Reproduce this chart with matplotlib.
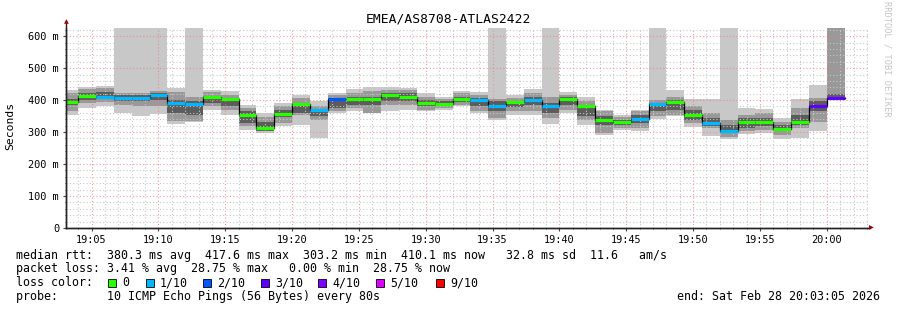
import matplotlib
matplotlib.use("Agg")
import matplotlib.pyplot as plt
from matplotlib.patches import Rectangle
from matplotlib.ticker import MultipleLocator, FixedLocator

# ── data: 80 s smokeping bins, time in minutes after 19:00 ──
STEP = 80 / 60
FIRST_BIN = 2 + 40 / 60          # 19:02:40
T0, T1 = 3 + 5 / 60, 63 + 5 / 60  # 19:03:05 .. 20:03:05

median = [394, 413, 411, 408, 408, 416, 392, 388, 409, 403, 354, 312, 356, 387, 369,
          404, 403, 403, 417, 409, 392, 387, 404, 399, 382, 393, 400, 383, 404, 380,
          339, 332, 342, 387, 393, 354, 327, 304, 332, 330, 310, 333, 380, 408]
loss = [0, 0, 1, 1, 1, 1, 1, 1, 0, 0, 0, 0, 0, 0, 1, 2, 0, 0, 0, 0, 0, 0, 0, 1, 1,
        0, 1, 1, 0, 0, 0, 0, 1, 1, 0, 0, 1, 1, 0, 0, 0, 0, 3, 3]
# smoke bands (ms): outer = min..max ping, mid, inner
outer_hi = [432, 440, 443, 700, 700, 700, 438, 700, 432, 427, 385, 359, 391, 417, 396,
            422, 435, 441, 441, 438, 422, 411, 429, 425, 700, 417, 435, 700, 425, 411,
            370, 352, 370, 700, 432, 403, 403, 700, 376, 372, 345, 403, 447, 700]
outer_lo = [352, 375, 380, 360, 351, 356, 325, 333, 370, 354, 307, 297, 318, 323, 281,
            359, 365, 359, 365, 370, 365, 370, 380, 359, 339, 354, 354, 325, 359, 323,
            292, 307, 302, 340, 349, 317, 288, 278, 294, 298, 278, 282, 303, 400]
mid_hi = [422, 434, 437, 422, 422, 427, 425, 411, 425, 417, 375, 346, 380, 406, 380,
          417, 422, 427, 432, 432, 411, 404, 422, 417, 404, 406, 422, 411, 417, 396,
          365, 346, 365, 401, 411, 380, 359, 339, 354, 359, 333, 375, 406, 700]
mid_lo = [365, 391, 394, 385, 380, 383, 335, 335, 383, 370, 318, 302, 328, 354, 339,
          365, 375, 359, 385, 385, 370, 375, 385, 365, 344, 365, 365, 344, 370, 339,
          297, 312, 312, 349, 354, 328, 312, 286, 302, 307, 292, 312, 333, 405]
inner_hi = [404, 422, 425, 417, 417, 422, 401, 396, 414, 406, 365, 333, 370, 391, 370,
            406, 411, 411, 422, 422, 401, 396, 411, 406, 396, 396, 411, 391, 411, 380,
            349, 339, 354, 391, 401, 370, 344, 323, 344, 344, 323, 354, 396, 418]
inner_lo = [385, 401, 404, 398, 398, 401, 359, 354, 391, 380, 328, 304, 346, 359, 349,
            375, 385, 385, 396, 396, 380, 380, 394, 380, 365, 377, 385, 359, 385, 349,
            323, 323, 328, 365, 370, 339, 318, 297, 312, 318, 302, 323, 365, 404]

yticks = [0, 100, 200, 300, 400, 500, 600]
ytick_labels = ["0", "100 m", "200 m", "300 m", "400 m", "500 m", "600 m"]
xticks = [5, 10, 15, 20, 25, 30, 35, 40, 45, 50, 55, 60]
xtick_labels = ["19:05", "19:10", "19:15", "19:20", "19:25", "19:30",
                "19:35", "19:40", "19:45", "19:50", "19:55", "20:00"]

LOSS_COLORS = {0: "#26ff00", 1: "#00b8ff", 2: "#0059ff", 3: "#5e00ff",
               4: "#7e00ff", 5: "#dd00ff", 9: "#ff0000"}
legend_loss = [0, 1, 2, 3, 4, 5, 9]
legend_names = ["0", "1/10", "2/10", "3/10", "4/10", "5/10", "9/10"]

MONO = "DejaVu Sans Mono"
W, H = 897, 310


def fx(px):
    return px / W


def fy(py):
    return 1 - py / H


fig = plt.figure(figsize=(W / 100, H / 100), dpi=100)
fig.patch.set_facecolor("white")
ax = fig.add_axes([fx(66), fy(228), (868 - 66) / W, (228 - 27.5) / H])
ax.set_facecolor("white")

starts = [FIRST_BIN + i * STEP for i in range(len(median))]
for lo, hi, c in ((outer_lo, outer_hi, "#c8c8c8"),
                  (mid_lo, mid_hi, "#999999"),
                  (inner_lo, inner_hi, "#5c5c5c")):
    ax.bar(starts, [h - l for l, h in zip(lo, hi)], bottom=lo, width=STEP,
           align="edge", color=c, linewidth=0, zorder=1)

# median: black step + loss-coloured segments
ax.step(starts + [starts[-1] + STEP], median + [median[-1]], where="post",
        color="black", lw=0.9, zorder=4)
ax.hlines(median, starts, [s + STEP for s in starts],
          colors=[LOSS_COLORS[l] for l in loss], lw=2.3, zorder=5)

ax.set_xlim(T0, T1)
ax.set_ylim(0, 627)
ax.xaxis.set_major_locator(FixedLocator(xticks))
ax.xaxis.set_minor_locator(MultipleLocator(1))
ax.yaxis.set_major_locator(FixedLocator(yticks))
ax.yaxis.set_minor_locator(MultipleLocator(20))
ax.set_xticklabels(xtick_labels, family=MONO, fontsize=7.4)
ax.set_yticklabels(ytick_labels, family=MONO, fontsize=7.4)
ax.grid(which="minor", color="#c8c8c8", ls=(0, (1, 2)), lw=0.8, zorder=2)
ax.grid(which="major", color="#f08080", ls=(0, (1, 2)), lw=0.8, alpha=0.8, zorder=3)
ax.set_axisbelow(False)
ax.tick_params(which="both", length=2, color="#444444", pad=3)
ax.tick_params(which="minor", length=1)
for side in ("top", "right"):
    ax.spines[side].set_visible(False)
for side in ("left", "bottom"):
    ax.spines[side].set_color("#222222")
    ax.spines[side].set_linewidth(1)
    ax.spines[side].set_zorder(6)

# axis arrows
fig.add_artist(plt.Line2D([fx(66), fx(66)], [fy(228), fy(23)], color="#222222", lw=1))
fig.add_artist(plt.Line2D([fx(66), fx(870)], [fy(228), fy(228)], color="#222222", lw=1))
fig.text(fx(66), fy(22), "▲", color="#990000", fontsize=4.5, ha="center", va="center")
fig.text(fx(871), fy(228), "▶", color="#990000", fontsize=4.5, ha="center", va="center")

fig.text(fx(448), fy(19.5), "EMEA/AS8708-ATLAS2422", family=MONO, fontsize=9.4,
         ha="center", va="center")
fig.text(fx(10), fy(126), "Seconds", family=MONO, fontsize=8.2, rotation=90,
         ha="center", va="center")
fig.text(fx(887), fy(59), "RRDTOOL / TOBI OETIKER", family=MONO, fontsize=6.2,
         rotation=270, ha="center", va="center", color="#c4c4c4")

LEG = 8.4
fig.text(fx(16), fy(255), "median rtt:  380.3 ms avg  417.6 ms max  303.2 ms min  "
         "410.1 ms now   32.8 ms sd  11.6   am/s", family=MONO, fontsize=LEG, va="center")
fig.text(fx(16), fy(268.5), "packet loss: 3.41 % avg  28.75 % max   0.00 % min  "
         "28.75 % now", family=MONO, fontsize=LEG, va="center")
fig.text(fx(16), fy(282.5), "loss color:", family=MONO, fontsize=LEG, va="center")
box_x = [108, 146, 203, 261, 318, 376, 436]
for bx, l, name in zip(box_x, legend_loss, legend_names):
    fig.add_artist(Rectangle((fx(bx), fy(286.5)), 8 / W, 8 / H, transform=fig.transFigure,
                             facecolor=LOSS_COLORS[l], edgecolor="black", lw=0.6))
    fig.text(fx(bx + 14), fy(282.5), name, family=MONO, fontsize=LEG, va="center")
fig.text(fx(16), fy(296.5), "probe:       10 ICMP Echo Pings (56 Bytes) every 80s",
         family=MONO, fontsize=LEG, va="center")
fig.text(fx(880), fy(296.5), "end: Sat Feb 28 20:03:05 2026", family=MONO,
         fontsize=LEG, va="center", ha="right")

fig.savefig("out.png", dpi=100, facecolor="white")
